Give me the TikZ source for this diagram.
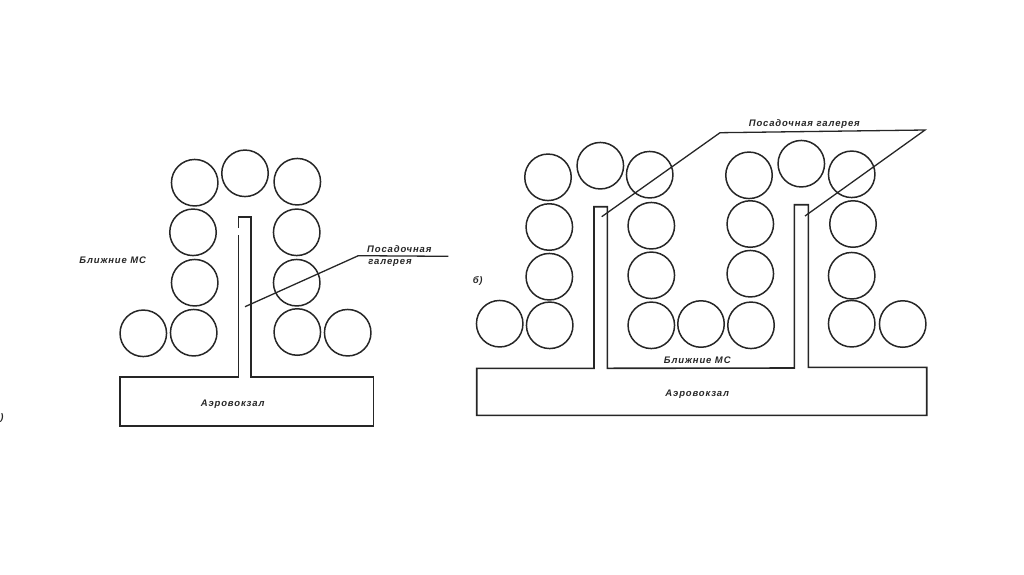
\documentclass[tikz,border=0pt]{standalone}
\usepackage{fontspec}
\setmainfont{Liberation Sans}
\newfontfamily\notefont[LetterSpace=9,Scale=0.95]{Liberation Sans}
\usetikzlibrary{positioning}
\definecolor{Ink}{HTML}{262626}
\tikzset{
  stand/.style={draw=Ink,circle,minimum size=46.5pt,inner sep=0pt,line width=1.5pt},
  outline/.style={draw=Ink,line width=1.6pt,line join=miter},
  leader/.style={draw=Ink,line width=1.3pt},
  note/.style={font=\notefont\fontsize{10}{11}\selectfont\itshape\bfseries,text=Ink,inner sep=0pt}
}

\begin{document}
\begin{tikzpicture}[x=1pt,y=-1pt]
  \useasboundingbox (0,0) rectangle (1024,574);
  % scheme a
  \foreach \n/\x/\y in {a1/194.7/182.7,a2/245/173.3,a3/297.3/181.7,a4/193/232.3,a5/296.7/232.3,
    a6/194.7/282.7,a7/296.7/282.7,a8/143.3/333.3,a9/193.7/332.7,a10/297.3/332,a11/347.7/332.7}
    \node[stand] (\n) at (\x,\y) {};
  \draw[outline] (238.3,228) -- (238.3,216.7) -- (251,216.7) -- (251,376.7) -- (373.3,376.7)
    -- (373.3,425.7) -- (120,425.7) -- (120,376.7) -- (238.3,376.7) -- (238.3,235);
  \coordinate (galA) at (245,306.7);
  \coordinate (bendA) at (358.3,255.7);
  \coordinate (endA) at (448.3,256.3);
  \draw[leader] (galA) -- (bendA) -- (endA);
  \node[note] (posA) at (399.3,249) {Посадочная};
  \node[note] (galeryA) at (390,263.3) {галерея};
  \node[note] (nearA) at (112.7,260.7) {Ближние МС};
  \node[note] (termA) at (232.7,404.3) {Аэровокзал};
  \node[note] (markA) at (2,418) {)};

  % scheme b
  \foreach \n/\x/\y in {b1/548/177.3,b2/600.3/165.7,b3/649.7/174.7,b4/749/175.3,b5/801.3/163.7,b6/851.7/174.3,
    b7/549.3/227,b8/651.3/225.7,b9/750.3/224,b10/853/224,
    b11/549.3/276.7,b12/651.3/275.3,b13/750.3/273.7,b14/851.7/275.7,
    b15/499.7/323.7,b16/549.7/325.3,b17/651.3/325.3,b18/701/324,b19/751/325.3,b20/851.7/323.7,b21/902.7/324}
    \node[stand] (\n) at (\x,\y) {};
  \draw[outline] (476.7,368.3) -- (594,368.3) -- (594,206.7) -- (607.3,206.7) -- (607.3,368.3)
    -- (794.3,368) -- (794.3,204.7) -- (808.3,204.7) -- (808.3,367.3) -- (926.7,367.3)
    -- (926.7,415.3) -- (476.7,415.3) -- cycle;
  \coordinate (galB) at (601.7,216.7);
  \coordinate (bendB) at (720,132.7);
  \coordinate (bendC) at (925,130);
  \coordinate (galC) at (805,216);
  \draw[leader] (galB) -- (bendB) -- (bendC) -- (galC);
  \node[note] (posB) at (804.3,124) {Посадочная галерея};
  \node[note] (nearB) at (697.3,360.7) {Ближние МС};
  \node[note] (termB) at (697.3,394) {Аэровокзал};
  \node[note] (markB) at (477.7,281.3) {б)};
\end{tikzpicture}
\end{document}
